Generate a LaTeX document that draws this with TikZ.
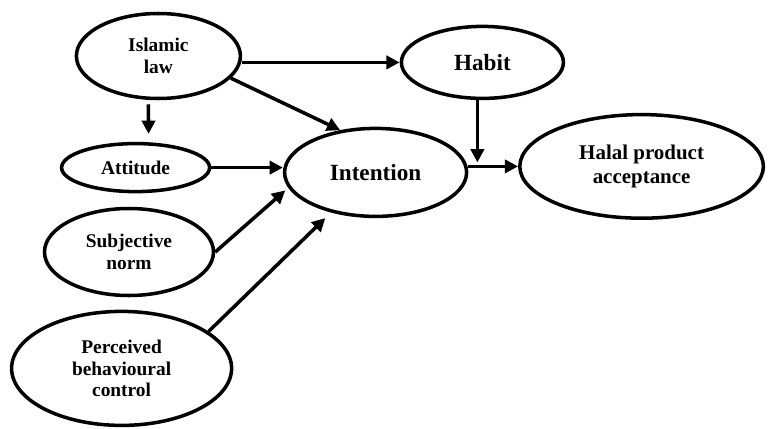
\documentclass[tikz,border=0pt]{standalone}
\usepackage{fontspec}
\setmainfont{Liberation Serif}
\usetikzlibrary{arrows.meta,shapes.geometric}

\begin{document}
\begin{tikzpicture}[
  font=\bfseries\fontsize{13.8}{15.5}\selectfont,
  var/.style={draw,ellipse,line width=2.5pt,align=center,inner sep=0pt},
  big/.style={font=\bfseries\fontsize{16.5}{18}\selectfont},
  arr/.style={-{Triangle[length=3.3mm,width=3.3mm]},line width=2.5pt},
]
\useasboundingbox (0,0) rectangle (19.2,10.7);
% antecedents
\node[var,minimum width=4.1cm,minimum height=2.125cm] (law) at (3.96,9.30) {Islamic\\ law};
\node[var,minimum width=3.7cm,minimum height=1.2cm] (att) at (3.39,6.51) {Attitude};
\node[var,minimum width=4.225cm,minimum height=2.175cm] (subj) at (3.225,4.40) {Subjective\\ norm};
\node[var,minimum width=5.5cm,minimum height=2.85cm] (pbc) at (3.04,1.49) {Perceived\\ behavioural\\ control};
% mediators
\node[var,big,minimum width=4.05cm,minimum height=1.8cm] (habit) at (12.06,9.14) {Habit};
\node[var,big,minimum width=4.55cm,minimum height=2.2cm] (intention) at (9.39,6.39) {Intention};
% outcome
\node[var,font=\bfseries\fontsize{14.9}{17}\selectfont,minimum width=6.09cm,minimum height=2.59cm] (halal) at (16.04,6.54) {Halal product\\ acceptance};
\coordinate[xshift=-1.25mm] (jn) at (habit.south |- halal.west);
% arrows
\draw[arr] (law.east |- habit.west)--(habit.west); \draw[arr] (law.-17)--(intention.130);
\draw[arr,shorten <=1mm,shorten >=2mm] ([xshift=-2.5mm]law.south)--([xshift=3.25mm]att.north);
\draw[arr] (att.east)--(att.east -| intention.west);
\draw[arr,shorten >=1mm] (subj.east)--(intention.190); \draw[arr,shorten >=2mm] (pbc.23)--(intention.222);
\draw[arr] (halal.west -| intention.east)--(halal.west);
\draw[arr,shorten >=1mm] (habit.south -| jn)--(jn);
\end{tikzpicture}
\end{document}
